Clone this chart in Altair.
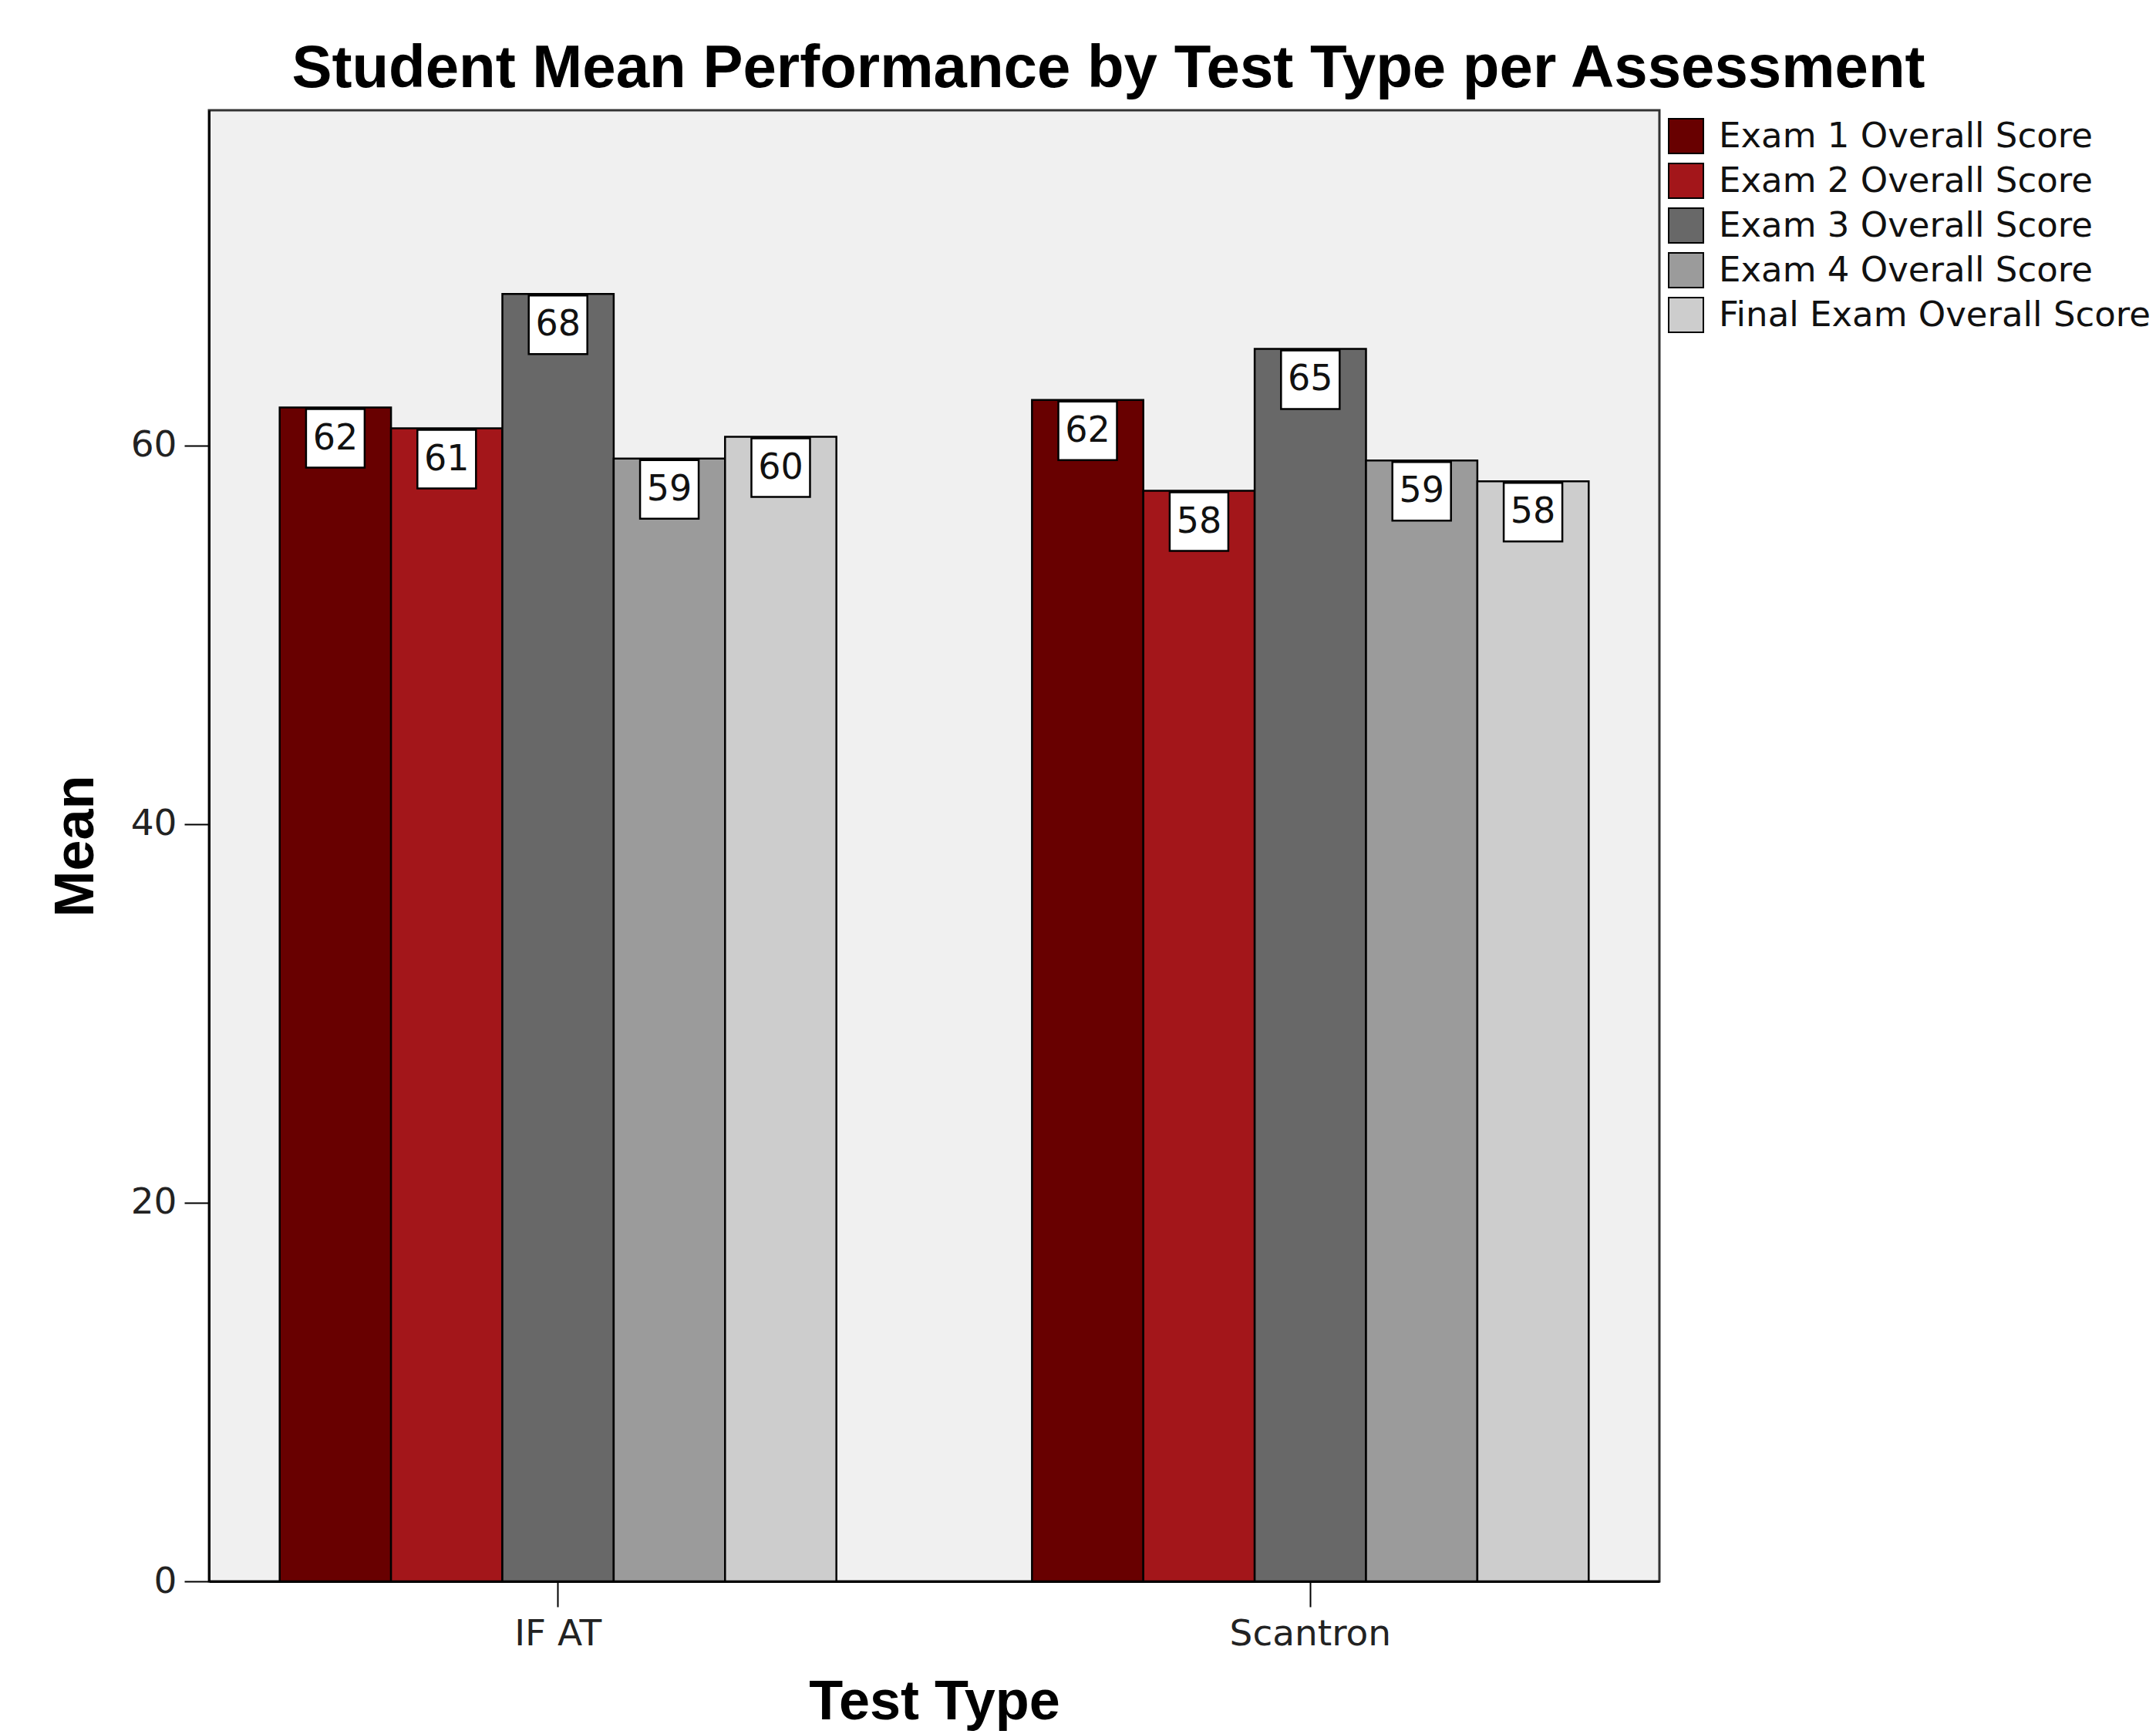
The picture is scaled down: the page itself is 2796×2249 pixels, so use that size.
import altair as alt
import pandas as pd

test_types = ["IF AT", "Scantron"]
assessments = [
    "Exam 1 Overall Score",
    "Exam 2 Overall Score",
    "Exam 3 Overall Score",
    "Exam 4 Overall Score",
    "Final Exam Overall Score",
]
ifat_means = [62.0, 60.9, 68.0, 59.3, 60.45]
scantron_means = [62.4, 57.6, 65.1, 59.2, 58.1]
colors = ["#680000", "#a3161a", "#686868", "#9b9b9b", "#cdcdcd"]

rows = []
for tt, vals in zip(test_types, [ifat_means, scantron_means]):
    for a, v in zip(assessments, vals):
        rows.append({"Test Type": tt, "Assessment": a, "Mean": v})
df = pd.DataFrame(rows)

W, H = 1881, 1908

x = alt.X(
    "Test Type:N",
    scale=alt.Scale(domain=test_types, paddingInner=0.26, paddingOuter=0.094),
    axis=alt.Axis(
        title="Test Type",
        titleFont="Liberation Sans",
        titleFontSize=72,
        titleFontWeight="bold",
        titleColor="black",
        titleX=W / 2,
        titleY=156,
        titleBaseline="middle",
        labelAngle=0,
        labelFont="DejaVu Sans",
        labelFontSize=47,
        labelColor="#222",
        labelPadding=12,
        labelLimit=1000,
        tickSize=33,
        tickWidth=2,
        tickColor="black",
        domainColor="black",
        domainWidth=3,
        grid=False,
    ),
)
xo = alt.XOffset(
    "Assessment:N",
    scale=alt.Scale(domain=assessments, paddingInner=0, paddingOuter=0),
)
y = alt.Y(
    "Mean:Q",
    scale=alt.Scale(domain=[0, 77.7], nice=False, zero=True),
    axis=alt.Axis(
        title="Mean",
        titleFont="Liberation Sans",
        titleFontSize=72,
        titleFontWeight="bold",
        titleColor="black",
        titleX=-173,
        titleY=H / 2,
        titleAngle=270,
        titleAlign="center",
        titleBaseline="middle",
        values=[0, 20, 40, 60],
        labelFont="DejaVu Sans",
        labelFontSize=47,
        labelColor="#222",
        labelPadding=10,
        tickSize=32,
        tickWidth=2,
        tickColor="black",
        domainColor="black",
        domainWidth=3,
        grid=False,
    ),
)

bars = alt.Chart(df).mark_bar(stroke="black", strokeWidth=2.5).encode(
    x=x,
    xOffset=xo,
    y=y,
    color=alt.Color(
        "Assessment:N",
        scale=alt.Scale(domain=assessments, range=colors),
        legend=alt.Legend(
            title=None,
            orient="none",
            legendX=1892,
            legendY=10,
            symbolType="square",
            symbolSize=2025,
            symbolStrokeColor="black",
            symbolStrokeWidth=2,
            symbolOpacity=1,
            labelFont="DejaVu Sans",
            labelFontSize=45,
            labelColor="#111",
            labelOffset=19,
            labelLimit=2000,
            rowPadding=5,
        ),
    ),
)

boxes = alt.Chart(df).mark_point(
    shape="square", size=5776, filled=True, fill="white", stroke="black",
    strokeWidth=2.5, opacity=1, yOffset=40,
).encode(x=x, xOffset=xo, y=y)

labels = alt.Chart(df).mark_text(
    font="DejaVu Sans", fontSize=46, color="#111", baseline="middle",
    align="center", yOffset=40,
).encode(x=x, xOffset=xo, y=y, text=alt.Text("Mean:Q", format=".0f"))

chart = (
    alt.layer(bars, boxes, labels)
    .properties(
        width=W,
        height=H,
        title=alt.TitleParams(
            "Student Mean Performance by Test Type per Assessment",
            font="Liberation Sans",
            fontSize=78,
            fontWeight="bold",
            color="black",
            anchor="middle",
            dx=226,
            offset=14,
        ),
        autosize=alt.AutoSizeParams(type="none"),
        padding={"left": 271, "top": 143, "right": 644, "bottom": 198},
        background="white",
    )
    .configure_view(fill="#f0f0f0", stroke="#333", strokeWidth=3)
)

chart.save("out.html", embed_options={"renderer": "svg", "actions": False})
